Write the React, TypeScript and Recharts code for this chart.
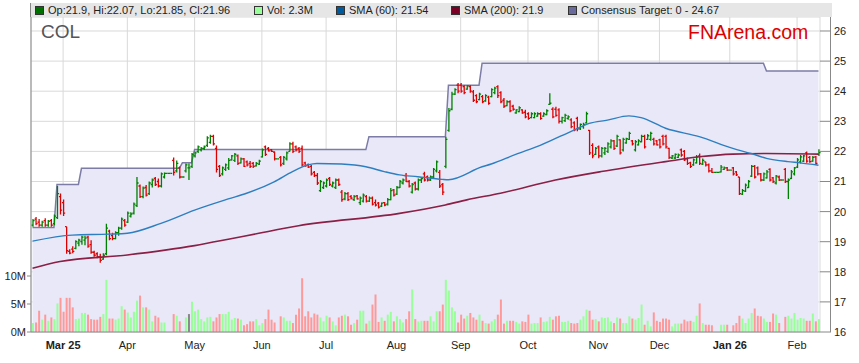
import { ComposedChart, Bar, Line, Area, XAxis, YAxis, CartesianGrid, Cell } from "recharts";

// weekday slots from 17 Feb 2025 to 11 Feb 2026 (ASX holidays drawn flat, no volume)
const opens = [
  19.55, 19.75, 19.65, 19.55, 19.7, 19.55, 19.7, 19.6, 19.8, 20.5,
  20.3, 19.5, 18.68, 18.75, 18.78, 18.95, 19.0, 19.05, 19.15, 18.9,
  18.65, 18.6, 18.5, 18.42, 18.6, 19.35, 19.2, 19.1, 19.3, 19.45,
  19.7, 19.65, 19.85, 19.95, 20.2, 20.85, 20.5, 20.8, 20.6, 20.9,
  21.1, 21.0, 20.85, 21.15, 21.27, 21.27, 21.7, 21.35, 21.45, 21.15,
  21.35, 21.45, 21.5, 21.85, 22.0, 22.05, 22.1, 22.2, 22.3, 22.5,
  22.1, 21.5, 21.25, 21.4, 21.45, 21.72, 21.7, 21.85, 21.62, 21.75,
  21.65, 21.6, 21.6, 21.52, 21.58, 21.82, 22.15, 22.1, 22.05, 21.98,
  21.75, 21.8, 21.6, 21.75, 22.0, 22.25, 22.15, 22.1, 22.1, 21.62,
  21.55, 21.5, 21.3, 21.2, 20.7, 20.8, 20.85, 21.1, 20.85, 20.8,
  21.05, 20.65, 20.42, 20.6, 20.5, 20.4, 20.52, 20.3, 20.35, 20.5,
  20.35, 20.45, 20.3, 20.28, 20.18, 20.3, 20.25, 20.4, 20.72, 20.58,
  20.8, 20.95, 21.2, 21.0, 20.65, 20.95, 20.75, 21.05, 21.25, 21.15,
  21.05, 21.15, 21.35, 21.3, 20.9, 21.5, 22.7, 23.4, 23.9, 24.2,
  24.2, 24.15, 24.07, 24.15, 23.98, 23.85, 23.72, 23.82, 23.68, 23.8,
  23.82, 23.95, 24.15, 23.95, 23.7, 23.52, 23.65, 23.5, 23.28, 23.32,
  23.38, 23.3, 23.25, 23.12, 23.12, 23.17, 23.25, 23.17, 23.22, 23.56,
  23.4, 23.4, 23.38, 23.0, 23.02, 23.1, 23.05, 22.95, 23.1, 22.75,
  22.82, 22.95, 22.7, 22.2, 21.9, 22.15, 21.85, 21.95, 22.0, 22.15,
  22.35, 22.18, 22.38, 22.05, 22.28, 22.4, 22.35, 22.05, 22.22, 22.32,
  22.5, 22.4, 22.4, 22.4, 22.35, 22.38, 22.5, 22.5, 22.1, 21.78,
  21.78, 21.8, 22.05, 22.0, 21.75, 21.62, 21.55, 21.62, 21.85, 21.58,
  21.65, 21.55, 21.35, 21.3, 21.3, 21.32, 21.4, 21.45, 21.38, 21.45,
  21.32, 21.15, 20.58, 20.68, 20.8, 21.18, 21.5, 21.45, 21.25, 21.05,
  21.12, 21.4, 21.12, 20.95, 21.15, 21.05, 21.4, 21.0, 21.1, 21.25,
  21.48, 21.65, 21.68, 21.95, 21.8, 21.68, 21.82, 21.9,
];

const highs = [
  19.75, 19.82, 19.75, 19.7, 19.78, 19.72, 19.75, 19.9, 20.85, 20.6,
  20.4, 19.5, 18.75, 18.85, 19.05, 19.1, 19.2, 19.2, 19.2, 19.05,
  18.7, 18.65, 18.6, 18.62, 19.6, 19.4, 19.3, 19.35, 19.5, 19.8,
  19.75, 20.0, 19.98, 20.3, 21.15, 20.9, 20.83, 20.88, 21.0, 21.1,
  21.15, 21.1, 21.3, 21.3, 21.27, 21.27, 21.8, 21.7, 21.5, 21.15,
  21.6, 21.6, 21.95, 22.0, 22.2, 22.15, 22.2, 22.5, 22.55, 22.55,
  22.2, 21.55, 21.5, 21.6, 21.78, 21.88, 21.95, 21.9, 21.8, 21.78,
  21.7, 21.68, 21.65, 21.65, 21.72, 22.1, 22.2, 22.15, 22.08, 22.0,
  21.75, 21.85, 21.85, 22.0, 22.3, 22.32, 22.2, 22.15, 22.2, 21.66,
  21.6, 21.55, 21.35, 21.28, 21.05, 21.0, 21.1, 21.15, 21.0, 21.1,
  21.1, 20.72, 20.65, 20.65, 20.55, 20.55, 20.55, 20.5, 20.6, 20.55,
  20.5, 20.5, 20.4, 20.32, 20.3, 20.32, 20.45, 20.78, 20.75, 20.85,
  21.05, 21.1, 21.28, 21.05, 20.95, 21.0, 21.1, 21.15, 21.32, 21.2,
  21.2, 21.45, 21.7, 21.38, 20.95, 22.49, 23.44, 23.98, 24.1, 24.27,
  24.27, 24.2, 24.2, 24.2, 24.04, 23.9, 23.95, 23.87, 23.9, 23.85,
  24.1, 24.15, 24.2, 24.0, 23.77, 23.7, 23.7, 23.55, 23.4, 23.5,
  23.4, 23.38, 23.3, 23.3, 23.3, 23.3, 23.3, 23.3, 23.4, 23.93,
  23.47, 23.48, 23.43, 23.15, 23.25, 23.2, 23.1, 23.0, 23.15, 22.93,
  22.95, 23.32, 22.71, 22.27, 22.15, 22.2, 22.15, 22.15, 22.3, 22.4,
  22.38, 22.55, 22.4, 22.45, 22.45, 22.65, 22.38, 22.38, 22.4, 22.55,
  22.55, 22.58, 22.65, 22.45, 22.38, 22.42, 22.55, 22.55, 22.12, 21.88,
  21.93, 21.93, 22.1, 22.05, 21.8, 21.66, 21.76, 21.88, 21.93, 21.76,
  21.66, 21.6, 21.45, 21.3, 21.3, 21.55, 21.5, 21.48, 21.38, 21.48,
  21.35, 21.15, 20.75, 20.93, 21.05, 21.55, 21.55, 21.5, 21.28, 21.3,
  21.38, 21.44, 21.15, 21.22, 21.2, 21.05, 21.45, 21.1, 21.38, 21.48,
  21.78, 21.88, 21.88, 22.0, 21.85, 21.85, 21.85, 22.07,
];

const lows = [
  19.5, 19.55, 19.5, 19.5, 19.5, 19.5, 19.5, 19.55, 19.75, 19.9,
  19.85, 18.6, 18.58, 18.62, 18.75, 18.85, 18.9, 18.88, 18.8, 18.6,
  18.5, 18.45, 18.3, 18.4, 18.55, 19.05, 19.05, 19.08, 19.2, 19.4,
  19.5, 19.62, 19.8, 19.9, 20.15, 20.45, 20.44, 20.5, 20.55, 20.8,
  20.85, 20.8, 20.8, 21.1, 21.27, 21.27, 21.2, 21.3, 21.1, 21.15,
  21.3, 21.05, 21.45, 21.8, 21.95, 22.0, 22.05, 22.15, 22.25, 22.2,
  21.3, 21.15, 21.2, 21.35, 21.38, 21.7, 21.65, 21.55, 21.6, 21.48,
  21.5, 21.45, 21.45, 21.5, 21.55, 21.8, 21.85, 22.0, 21.98, 21.7,
  21.75, 21.5, 21.55, 21.7, 22.0, 21.95, 22.0, 21.95, 21.5, 21.49,
  21.45, 21.2, 21.15, 20.88, 20.65, 20.75, 20.8, 20.85, 20.8, 20.75,
  20.85, 20.33, 20.38, 20.35, 20.4, 20.35, 20.4, 20.22, 20.3, 20.3,
  20.32, 20.2, 20.17, 20.1, 20.15, 20.18, 20.2, 20.38, 20.5, 20.55,
  20.78, 20.9, 20.98, 20.8, 20.6, 20.7, 20.7, 20.95, 21.0, 21.0,
  21.02, 21.1, 21.3, 20.78, 20.55, 21.44, 22.65, 23.37, 23.87, 23.93,
  23.95, 23.9, 24.05, 23.95, 23.64, 23.6, 23.7, 23.6, 23.65, 23.55,
  23.8, 23.9, 23.77, 23.6, 23.44, 23.5, 23.3, 23.35, 23.25, 23.3,
  23.25, 23.1, 23.05, 23.1, 23.1, 23.15, 23.05, 23.15, 23.2, 23.54,
  23.1, 23.15, 22.93, 22.93, 22.98, 23.05, 22.77, 22.67, 22.67, 22.71,
  22.75, 22.93, 21.88, 21.77, 21.88, 21.77, 21.8, 21.88, 21.95, 22.1,
  22.05, 22.15, 21.9, 22.0, 22.25, 22.38, 22.2, 22.0, 22.2, 22.3,
  22.1, 22.38, 22.35, 22.2, 22.2, 22.1, 22.2, 22.1, 21.75, 21.75,
  21.75, 21.78, 21.82, 21.68, 21.55, 21.45, 21.52, 21.6, 21.55, 21.55,
  21.5, 21.3, 21.28, 21.3, 21.3, 21.3, 21.38, 21.35, 21.38, 21.2,
  21.18, 20.55, 20.55, 20.65, 20.78, 21.15, 21.1, 21.2, 21.0, 21.02,
  21.1, 21.0, 20.95, 20.9, 21.02, 21.05, 20.95, 20.42, 21.08, 21.2,
  21.45, 21.6, 21.65, 21.62, 21.62, 21.66, 21.55, 21.85,
];

const closes = [
  19.7, 19.6, 19.55, 19.65, 19.55, 19.68, 19.55, 19.85, 20.6, 20.05,
  19.95, 18.7, 18.62, 18.68, 19.0, 19.05, 19.15, 19.12, 18.85, 18.65,
  18.55, 18.5, 18.38, 18.55, 19.45, 19.1, 19.1, 19.3, 19.45, 19.75,
  19.55, 19.95, 19.92, 20.25, 20.95, 20.5, 20.78, 20.55, 20.95, 21.05,
  20.9, 20.85, 21.25, 21.27, 21.27, 21.27, 21.3, 21.6, 21.15, 21.15,
  21.55, 21.45, 21.9, 21.95, 22.15, 22.1, 22.15, 22.45, 22.5, 22.25,
  21.4, 21.2, 21.45, 21.55, 21.7, 21.85, 21.9, 21.6, 21.75, 21.5,
  21.55, 21.5, 21.5, 21.6, 21.68, 22.05, 21.9, 22.02, 22.0, 21.75,
  21.75, 21.55, 21.8, 21.95, 22.25, 22.0, 22.05, 22.0, 21.55, 21.52,
  21.48, 21.25, 21.2, 20.95, 21.0, 20.95, 21.05, 20.9, 20.95, 21.05,
  20.9, 20.4, 20.6, 20.4, 20.45, 20.5, 20.42, 20.45, 20.55, 20.35,
  20.45, 20.25, 20.22, 20.15, 20.28, 20.22, 20.4, 20.7, 20.55, 20.8,
  21.0, 21.05, 21.0, 20.85, 20.9, 20.75, 21.05, 21.1, 21.05, 21.05,
  21.15, 21.4, 21.65, 20.85, 20.65, 22.4, 23.35, 23.9, 24.05, 24.0,
  24.0, 23.95, 24.18, 24.0, 23.7, 23.65, 23.9, 23.65, 23.85, 23.6,
  24.05, 24.1, 23.85, 23.65, 23.5, 23.65, 23.35, 23.4, 23.38, 23.45,
  23.28, 23.15, 23.1, 23.25, 23.25, 23.25, 23.1, 23.25, 23.35, 23.6,
  23.15, 23.2, 23.0, 23.12, 23.2, 23.15, 22.82, 22.72, 22.75, 22.9,
  22.9, 23.25, 21.95, 21.85, 22.1, 21.85, 22.1, 22.1, 22.25, 22.35,
  22.1, 22.5, 21.95, 22.4, 22.42, 22.6, 22.25, 22.32, 22.35, 22.5,
  22.15, 22.52, 22.6, 22.25, 22.22, 22.15, 22.25, 22.15, 21.8, 21.85,
  21.9, 21.88, 21.88, 21.72, 21.6, 21.5, 21.72, 21.82, 21.6, 21.7,
  21.55, 21.35, 21.3, 21.3, 21.3, 21.48, 21.45, 21.38, 21.38, 21.25,
  21.22, 20.6, 20.7, 20.88, 21.0, 21.5, 21.15, 21.25, 21.05, 21.25,
  21.32, 21.05, 21.0, 21.18, 21.05, 21.05, 21.0, 21.05, 21.32, 21.45,
  21.72, 21.82, 21.85, 21.68, 21.66, 21.8, 21.6, 21.96,
];

// volume in millions (null = market closed)
const volumes = [
  1.6, 1.7, 3.8, 2.2, 3.1, 2.0, 2.6, 2.3, 5.1, 6.1,
  3.6, 6.1, 6.1, 4.4, 2.3, 2.4, 3.4, 3.4, 3.1, 2.3,
  2.2, 2.2, 2.7, 3.2, 9.3, 2.4, 2.4, 2.2, 2.4, 4.6,
  4.0, 3.5, 2.6, 3.6, 5.6, 6.5, 4.4, 4.4, 4.0, 1.9,
  2.9, 2.6, 1.7, 1.7, null, null, 3.2, 2.9, 1.9, null,
  2.6, 3.2, 5.4, 3.7, 4.0, 2.3, 1.9, 2.6, 2.7, 1.9,
  2.6, 3.2, 3.2, 3.2, 3.6, 2.2, 2.5, 2.4, 2.2, 1.2,
  1.4, 1.9, 1.9, 2.3, 1.2, 1.6, 2.3, 4.0, 2.2, 1.7,
  null, 2.8, 2.6, 2.0, 2.0, 1.6, 3.1, 4.2, 9.6, 2.8,
  3.7, 2.6, 3.3, 3.1, 2.6, 1.9, 2.9, 2.6, 1.9, 1.2,
  2.6, 2.9, 3.1, 2.8, 1.3, 1.6, 2.2, 3.8, 3.8, 1.5,
  2.0, 4.9, 6.7, 1.8, 2.6, 2.0, 3.1, 3.6, 1.9, 2.8,
  2.3, 1.7, 2.3, 3.7, 7.6, 2.3, 1.9, 2.0, 2.0, 2.0,
  2.8, 1.9, 3.7, 3.7, 4.9, 9.3, 7.4, 4.4, 3.7, 1.7,
  3.1, 2.4, 2.9, 3.4, 2.6, 2.2, 3.1, 2.0, 1.6, 1.5,
  1.9, 2.3, 3.1, 5.8, 1.5, 2.0, 2.0, 2.0, 1.8, 1.5,
  1.9, 1.8, 3.1, 1.5, 1.6, 1.6, 2.6, 1.8, 1.9, 2.7,
  2.2, 2.8, 2.9, 1.8, 1.8, 2.0, 1.6, 1.5, 1.6, 2.2,
  2.8, 4.0, 3.8, 2.2, 2.3, 1.9, 2.6, 2.5, 2.6, 1.9,
  1.6, 2.6, 2.4, 1.6, 1.6, 2.8, 2.4, 2.2, 2.5, 4.9,
  1.3, 2.0, 1.0, 3.5, 2.0, 1.8, 2.4, 2.4, 2.2, 1.0,
  1.5, 1.5, 1.5, 2.2, 1.9, 2.0, 1.8, 2.9, 5.1, 1.6,
  1.3, 1.3, 1.2, null, null, 1.3, 1.3, 1.3, null, 1.2,
  1.6, 2.9, 2.4, 1.6, 2.4, 3.4, 4.2, 2.9, 2.8, 2.4,
  1.8, 1.8, 3.3, 3.1, 1.6, null, 2.7, 2.9, 2.4, 3.4,
  2.2, 2.5, 2.4, 2.0, 2.0, 3.3, 1.9, 2.3,
];

// [first slot, last slot, target]
const targetRuns: [number, number, number][] = [
  [0, 7, 19.47],
  [8, 15, 20.9],
  [16, 48, 21.44],
  [49, 52, 21.62],
  [53, 109, 22.06],
  [110, 135, 22.49],
  [136, 146, 24.2],
  [147, 239, 24.93],
  [240, 257, 24.67],
];

// [slot, value]
const sma60Points: [number, number][] = [
  [0, 19.02], [13, 19.22], [25, 19.25], [31, 19.28], [42, 19.61], [53, 20.05],
  [64, 20.42], [70, 20.61], [79, 20.99], [85, 21.33], [90, 21.55], [93, 21.6],
  [101, 21.58], [109, 21.49], [115, 21.33], [120, 21.22], [126, 21.16], [134, 21.07],
  [136, 21.06], [147, 21.49], [150, 21.58], [158, 21.9], [166, 22.2], [177, 22.71],
  [182, 22.93], [188, 23.04], [195, 23.18], [199, 23.12], [207, 22.77], [218, 22.49],
  [229, 22.1], [235, 21.93], [240, 21.77], [247, 21.66], [251, 21.62], [257, 21.54],
];

const sma200Points: [number, number][] = [
  [0, 18.12], [9, 18.34], [31, 18.56], [53, 18.87], [64, 19.08], [74, 19.28],
  [87, 19.53], [120, 19.94], [135, 20.22], [142, 20.39], [153, 20.61], [171, 21.05],
  [186, 21.33], [207, 21.66], [218, 21.82], [229, 21.91], [240, 21.93], [257, 21.91],
];

const tickSlots = [10, 31, 53, 75, 96, 119, 140, 162, 185, 205, 228, 250];
const tickLabels = ["Mar 25", "Apr", "May", "Jun", "Jul", "Aug", "Sep", "Oct", "Nov", "Dec", "Jan 26", "Feb"];
const priceTicks = [16, 17, 18, 19, 20, 21, 22, 23, 24, 25, 26];
const volumeTicks = [0, 5, 10];

const FONT = "'Liberation Sans', Arial, sans-serif";
const UP = "#008000";
const DOWN = "#dd0000";

const sma60Map = new Map(sma60Points);
const sma200Map = new Map(sma200Points);

const rows = opens.map((o, i) => {
  const run = targetRuns.find((r) => i >= r[0] && i <= r[1]);
  return {
    i,
    o,
    h: highs[i],
    l: lows[i],
    c: closes[i],
    range: [lows[i], highs[i]],
    vol: volumes[i],
    target: run ? run[2] : null,
    sma60: sma60Map.has(i) ? sma60Map.get(i) : null,
    sma200: sma200Map.has(i) ? sma200Map.get(i) : null,
  };
});

function volColor(r: any) {
  if (r.c > r.o) return "#99ff99";
  if (r.c < r.o) return "#ff9999";
  return "#888888";
}

function OhlcShape(props: any) {
  const { x, y, width, height, payload } = props;
  if (payload == null || x == null || y == null) return null;
  const top = Math.min(y, y + height);
  const bot = Math.max(y, y + height);
  const span = payload.h - payload.l;
  const toY = (v: number) => (span > 0 ? top + ((payload.h - v) / span) * (bot - top) : top);
  const cx = x + width / 2;
  const color = payload.c >= payload.o ? UP : DOWN;
  const oy = toY(payload.o);
  const cy = toY(payload.c);
  return (
    <g stroke={color} strokeWidth={1.3}>
      {span > 0 && <line x1={cx} x2={cx} y1={top} y2={bot} />}
      <line x1={cx - 1.6} x2={cx} y1={oy} y2={oy} />
      <line x1={cx} x2={cx + 1.6} y1={cy} y2={cy} />
    </g>
  );
}

function MonthTick(props: any) {
  const { x, y, payload } = props;
  const k = tickSlots.indexOf(payload.value);
  const label = k >= 0 ? tickLabels[k] : "";
  const bold = label.indexOf(" ") >= 0;
  return (
    <text x={x} y={y} dy={9} textAnchor="middle" fontSize={11} fontFamily={FONT}
      fontWeight={bold ? "bold" : "normal"} fill="#222">
      {label}
    </text>
  );
}

const legendItems = [
  { x: 35, color: "#007000", text: "Op:21.9, Hi:22.07, Lo:21.85, Cl:21.96" },
  { x: 254, color: "#99ff99", text: "Vol: 2.3M" },
  { x: 336, color: "#005a9c", text: "SMA (60): 21.54" },
  { x: 451, color: "#7a0025", text: "SMA (200): 21.9" },
  { x: 568, color: "#6a6a9c", text: "Consensus Target: 0 - 24.67" },
];

export default function App() {
  return (
    <div style={{ position: "absolute", left: 0, top: 0, width: 859, height: 363, background: "#fff", fontFamily: FONT }}>
      <ComposedChart
        width={859}
        height={363}
        data={rows}
        margin={{ top: 17, right: 0, bottom: 0, left: 0 }}
        barGap={-2}
        barCategoryGap={0}
      >
        <CartesianGrid yAxisId="p" stroke="#d9d9d9" strokeWidth={1} />
        <XAxis
          dataKey="i"
          type="category"
          ticks={tickSlots}
          interval={0}
          height={31}
          tick={<MonthTick />}
          tickLine={false}
          axisLine={{ stroke: "#888" }}
        />
        <YAxis
          yAxisId="v"
          orientation="left"
          width={31}
          domain={[0, 56.25]}
          ticks={volumeTicks}
          allowDataOverflow
          tickFormatter={(v: number) => v + "M"}
          tick={{ fontSize: 11, fill: "#222", fontFamily: FONT }}
          tickSize={4}
          tickMargin={1}
          axisLine={{ stroke: "#888" }}
          tickLine={{ stroke: "#888" }}
        />
        <YAxis
          yAxisId="p"
          orientation="right"
          width={39}
          domain={[16, 26.465]}
          ticks={priceTicks}
          allowDataOverflow
          tick={{ fontSize: 11, fill: "#222", fontFamily: FONT }}
          tickSize={11}
          tickMargin={3}
          axisLine={false}
          tickLine={{ stroke: "#888" }}
        />
        <Area
          yAxisId="p"
          type="linear"
          dataKey="target"
          stroke="#7c7ca6"
          strokeWidth={1.5}
          fill="#e8e8f8"
          fillOpacity={1}
          isAnimationActive={false}
          dot={false}
          activeDot={false}
        />
        <Bar yAxisId="v" dataKey="vol" barSize={2} isAnimationActive={false}>
          {rows.map((r) => (
            <Cell key={r.i} fill={volColor(r)} />
          ))}
        </Bar>
        <Line
          yAxisId="p"
          type="monotone"
          dataKey="sma200"
          stroke="#8b1f45"
          strokeWidth={1.6}
          dot={false}
          connectNulls
          isAnimationActive={false}
        />
        <Line
          yAxisId="p"
          type="monotone"
          dataKey="sma60"
          stroke="#2e7fc0"
          strokeWidth={1.4}
          dot={false}
          connectNulls
          isAnimationActive={false}
        />
        <Bar yAxisId="p" dataKey="range" barSize={2} shape={<OhlcShape />} isAnimationActive={false} />
      </ComposedChart>

      <div style={{ position: "absolute", left: 830, top: 17, width: 1, height: 315, background: "#888" }} />
      <div style={{ position: "absolute", left: 30, top: 3, width: 801, height: 14, background: "#e6e6e6", borderLeft: "1px solid #888" }} />
      {legendItems.map((it) => (
        <div key={it.text} style={{ position: "absolute", left: it.x, top: 3, height: 14, display: "flex", alignItems: "center", fontSize: 11, color: "#222", whiteSpace: "nowrap" }}>
          <span style={{ display: "inline-block", width: 7, height: 7, background: it.color, border: "1px solid #333", marginRight: 4 }} />
          {it.text}
        </div>
      ))}
      <div style={{ position: "absolute", left: 41, top: 21, fontSize: 19, color: "#555", lineHeight: "22px" }}>COL</div>
      <div style={{ position: "absolute", left: 688, top: 21, fontSize: 19.5, color: "#dd0000", lineHeight: "22px" }}>FNArena.com</div>
    </div>
  );
}
